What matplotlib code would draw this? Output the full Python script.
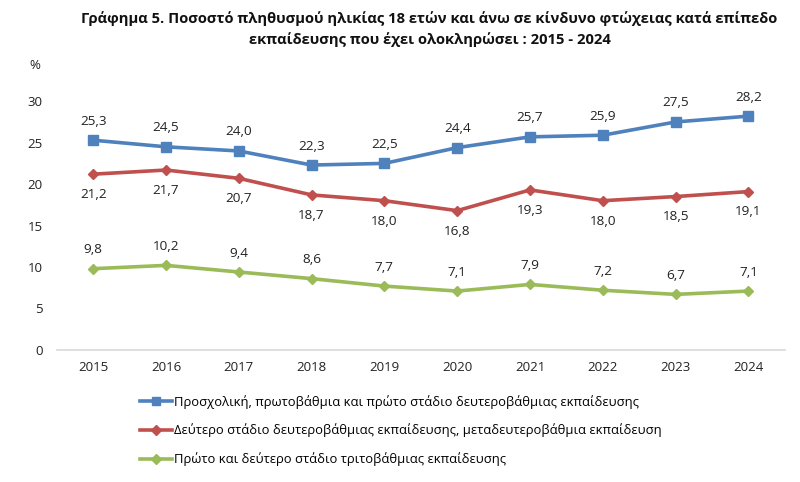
import matplotlib
matplotlib.use("Agg")
import matplotlib.pyplot as plt
from matplotlib.lines import Line2D

years = ["2015", "2016", "2017", "2018", "2019", "2020", "2021", "2022", "2023", "2024"]
primary = [25.3, 24.5, 24.0, 22.3, 22.5, 24.4, 25.7, 25.9, 27.5, 28.2]
secondary = [21.2, 21.7, 20.7, 18.7, 18.0, 16.8, 19.3, 18.0, 18.5, 19.1]
tertiary = [9.8, 10.2, 9.4, 8.6, 7.7, 7.1, 7.9, 7.2, 6.7, 7.1]
labels = [
    "Προσχολική, πρωτοβάθμια και πρώτο στάδιο δευτεροβάθμιας εκπαίδευσης",
    "Δεύτερο στάδιο δευτεροβάθμιας εκπαίδευσης, μεταδευτεροβάθμια εκπαίδευση",
    "Πρώτο και δεύτερο στάδιο τριτοβάθμιας εκπαίδευσης",
]
title = ("Γράφημα 5. Ποσοστό πληθυσμού ηλικίας 18 ετών και άνω σε κίνδυνο φτώχειας κατά επίπεδο\n"
         "εκπαίδευσης που έχει ολοκληρώσει : 2015 - 2024")

plt.rcParams['font.family'] = ['Open Sans', 'DejaVu Sans']

blue, red, green = "#4F81BD", "#C0504D", "#9BBB59"
fig = plt.figure(figsize=(8, 4.82), dpi=100)
ax = fig.add_axes([0.071, 0.274, 0.91, 0.516])
x = list(range(len(years)))

series = [
    (primary, blue, "s", 7, 9),
    (secondary, red, "D", 5.5, -10),
    (tertiary, green, "D", 5.5, 9),
]
for (vals, col, mk, ms, off), lab in zip(series, labels):
    ax.plot(x, vals, color=col, lw=2.6, marker=mk, ms=ms, label=lab)
    for xi, v in zip(x, vals):
        ax.annotate(f"{v:.1f}".replace(".", ","), (xi, v), xytext=(0, off),
                    textcoords="offset points", ha="center",
                    va="bottom" if off > 0 else "top", fontsize=9.7, color="#222222")

ax.set_xlim(-0.5, 9.5)
ax.set_ylim(0, 30)
ax.set_yticks(range(0, 31, 5))
ax.set_xticks(x)
ax.set_xticklabels(years)
for s in ["top", "right", "left"]:
    ax.spines[s].set_visible(False)
ax.spines["bottom"].set_color("#d9d9d9")
ax.spines["bottom"].set_linewidth(1.2)
ax.tick_params(axis="both", length=0, labelsize=9.5, colors="#222222")
ax.tick_params(axis="x", pad=8)
ax.tick_params(axis="y", pad=10)

fig.text(0.044, 0.865, "%", fontsize=9.5, ha="center", va="center", color="#222222")
fig.text(0.537, 0.94, title, fontsize=10.6, fontweight="bold", ha="center", va="center",
         linespacing=1.5, color="#111111")

handles = [Line2D([0], [0], color=c, lw=2.6, marker=m, ms=ms * 0.9) for (_, c, m, ms, _) in series]
fig.legend(handles, labels, loc="upper left", bbox_to_anchor=(0.168, 0.192),
           frameon=False, fontsize=9.4, handlelength=2.5, handletextpad=0.1,
           labelspacing=1.15, borderaxespad=0)

fig.savefig("out.png", dpi=100)
